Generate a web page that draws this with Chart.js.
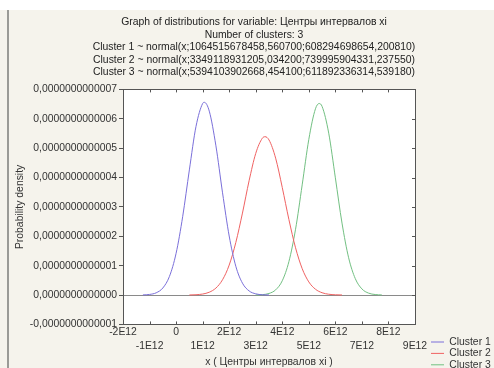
<!DOCTYPE html>
<html>
<head>
<meta charset="utf-8">
<script src="https://cdn.jsdelivr.net/npm/chart.js@4/dist/chart.umd.min.js"></script>
<style>
  html, body { margin: 0; padding: 0; background: #ffffff; }
  #wrap { width: 494px; height: 368px; }
</style>
</head>
<body>
<div id="wrap"><canvas id="dist-chart" width="494" height="368"></canvas></div>
<script>
// values: x in units of 1E12, density in units of 1E-13
const cluster1X = [-1.25, -1, -0.75, -0.5, -0.25, 0, 0.25, 0.5, 0.75, 1, 1.065, 1.25, 1.5, 1.75, 2, 2.25, 2.5, 2.75, 3, 3.25, 3.5];
const cluster1Y = [0.005, 0.021, 0.077, 0.24, 0.635, 1.42, 2.68, 4.26, 5.74, 6.52, 6.56, 6.26, 5.08, 3.48, 2.01, 0.98, 0.405, 0.141, 0.042, 0.010, 0.002];

const cluster2X = [0.5, 0.75, 1, 1.25, 1.5, 1.75, 2, 2.25, 2.5, 2.75, 3, 3.25, 3.35, 3.5, 3.75, 4, 4.25, 4.5, 4.75, 5, 5.25, 5.5, 5.75, 6, 6.25];
const cluster2Y = [0.003, 0.011, 0.035, 0.097, 0.238, 0.522, 1.02, 1.79, 2.79, 3.89, 4.82, 5.34, 5.39, 5.28, 4.66, 3.66, 2.57, 1.61, 0.90, 0.447, 0.199, 0.079, 0.028, 0.009, 0.0025];

const cluster3X = [3, 3.25, 3.5, 3.75, 4, 4.25, 4.5, 4.75, 5, 5.25, 5.39, 5.5, 5.75, 6, 6.25, 6.5, 6.75, 7, 7.25, 7.5, 7.75];
const cluster3Y = [0.003, 0.014, 0.054, 0.176, 0.487, 1.14, 2.24, 3.75, 5.30, 6.34, 6.52, 6.42, 5.51, 3.99, 2.45, 1.27, 0.56, 0.209, 0.066, 0.018, 0.004];

const seriesNames = ["Cluster 1", "Cluster 2", "Cluster 3"];
const seriesColors = ["#7a6fda", "#f06262", "#72c082"];

const titleLines = [
    "Graph of distributions for variable: Центры интервалов xi",
    "Number of clusters: 3",
    "Cluster 1 ~ normal(x;1064515678458,560700;608294698654,200810)",
    "Cluster 2 ~ normal(x;3349118931205,034200;739995904331,237550)",
    "Cluster 3 ~ normal(x;5394103902668,454100;611892336314,539180)"
];

const xMin = -2e12, xMax = 9e12, xStep = 1e12;
const yMin = -1e-13, yMax = 7e-13, yStep = 1e-13;

function toPoints(xs, ys) {
    return xs.map((x, i) => ({ x: x * 1e12, y: ys[i] * 1e-13 }));
}

function xLabel(v) {
    if (v === 0) return "0";
    return Math.round(v / 1e12) + "E12";
}

function yLabel(v) {
    const n = Math.round(v / 1e-13);
    return (n < 0 ? "-" : "") + "0,000000000000" + Math.abs(n);
}

// beige panel, white plot, frame and inward tick marks like the original
const panelPlugin = {
    id: "panel",
    beforeDraw(chart) {
        const ctx = chart.ctx;
        const a = chart.chartArea;
        ctx.save();
        ctx.fillStyle = "#ffffff";
        ctx.fillRect(0, 0, chart.width, chart.height);
        ctx.fillStyle = "#f5f3ec";
        ctx.fillRect(0, 10, chart.width, chart.height - 10);
        ctx.strokeStyle = "#9a9a96";
        ctx.lineWidth = 2;
        ctx.beginPath();
        ctx.moveTo(8, 10);
        ctx.lineTo(8, chart.height);
        ctx.stroke();
        ctx.fillStyle = "#ffffff";
        ctx.fillRect(a.left, a.top, a.right - a.left, a.bottom - a.top);
        ctx.restore();
    },
    afterDraw(chart) {
        const ctx = chart.ctx;
        const a = chart.chartArea;
        const xs = chart.scales.x, ys = chart.scales.y;
        ctx.save();
        ctx.strokeStyle = "#555555";
        ctx.lineWidth = 1;
        ctx.strokeRect(Math.round(a.left) + 0.5, Math.round(a.top) + 0.5,
            Math.round(a.right - a.left), Math.round(a.bottom - a.top));
        ctx.beginPath();
        xs.ticks.forEach(t => {
            const px = Math.round(xs.getPixelForValue(t.value)) + 0.5;
            ctx.moveTo(px, a.bottom); ctx.lineTo(px, a.bottom - 3);
            ctx.moveTo(px, a.top); ctx.lineTo(px, a.top + 3);
        });
        ys.ticks.forEach(t => {
            const py = Math.round(ys.getPixelForValue(t.value)) + 0.5;
            ctx.moveTo(a.right, py); ctx.lineTo(a.right - 3, py);
        });
        ctx.stroke();
        ctx.restore();
    },
    afterLayout(chart) {
        // legend sits right of the plot edge and low down in the original
        chart.legend.left += 15;
        chart.legend.right += 15;
        chart.legend.top += 3;
        chart.legend.bottom += 3;
    }
};

const ctx = document.getElementById("dist-chart").getContext("2d");
new Chart(ctx, {
    type: "line",
    data: {
        datasets: [
            { label: seriesNames[0], data: toPoints(cluster1X, cluster1Y), borderColor: seriesColors[0] },
            { label: seriesNames[1], data: toPoints(cluster2X, cluster2Y), borderColor: seriesColors[1] },
            { label: seriesNames[2], data: toPoints(cluster3X, cluster3Y), borderColor: seriesColors[2] }
        ].map(d => Object.assign(d, {
            backgroundColor: d.borderColor,
            borderWidth: 1,
            pointRadius: 0,
            pointStyle: "line",
            cubicInterpolationMode: "monotone",
            fill: false
        }))
    },
    options: {
        responsive: false,
        animation: false,
        layout: { padding: { left: 14, right: 0, top: 0, bottom: 0 } },
        font: { family: "'Liberation Sans', Arial, sans-serif", size: 10.4 },
        plugins: {
            title: {
                display: true,
                text: titleLines,
                color: "#222222",
                font: { size: 10.4, weight: "normal", lineHeight: 1.2 },
                padding: { top: 16, bottom: 11 }
            },
            legend: {
                position: "right",
                align: "end",
                labels: {
                    usePointStyle: true,
                    pointStyleWidth: 13,
                    color: "#333333",
                    font: { size: 10.4 },
                    padding: 1
                }
            },
            tooltip: { enabled: false }
        },
        scales: {
            x: {
                type: "linear",
                min: xMin,
                max: xMax,
                afterFit(scale) { scale.paddingRight = 79; },
                ticks: {
                    stepSize: xStep,
                    autoSkip: false,
                    maxRotation: 0,
                    padding: 1,
                    color: "#333333",
                    font: { size: 10.4, lineHeight: 1.35 },
                    callback: function (v, i) {
                        return i % 2 === 0 ? xLabel(v) : ["", xLabel(v)];
                    }
                },
                grid: { display: false, drawTicks: false },
                border: { display: false },
                title: {
                    display: true,
                    text: "x ( Центры интервалов xi )",
                    color: "#333333",
                    font: { size: 10.4 },
                    padding: { top: 1, bottom: 0 }
                }
            },
            y: {
                min: yMin,
                max: yMax,
                afterFit(scale) { scale.width = 109; },
                ticks: {
                    stepSize: yStep,
                    padding: 2,
                    color: "#333333",
                    font: { size: 10.4 },
                    callback: v => yLabel(v)
                },
                grid: {
                    color: c => (c.tick && Math.abs(c.tick.value) < 1e-20) ? "#8a8a8a" : "rgba(0,0,0,0)",
                    tickColor: "#555555",
                    tickLength: 4
                },
                border: { display: false },
                title: {
                    display: true,
                    text: "Probability density",
                    color: "#333333",
                    font: { size: 10.4 },
                    padding: 0
                }
            }
        }
    },
    plugins: [panelPlugin]
});
</script>
</body>
</html>
